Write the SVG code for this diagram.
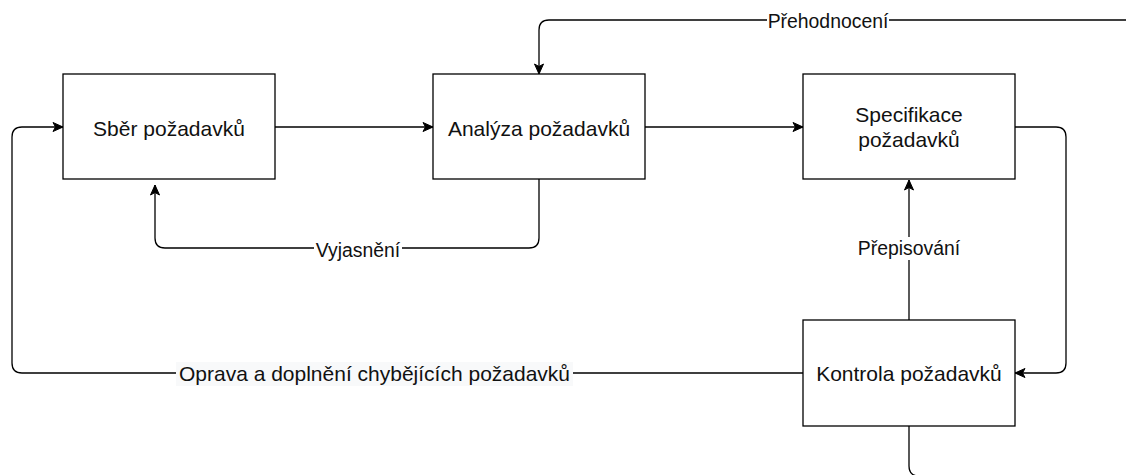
<svg xmlns="http://www.w3.org/2000/svg" width="1126" height="475" viewBox="0 0 1126 475">
  <style>
    .box { fill: #ffffff; stroke: #000000; stroke-width: 1.3; }
    .txt { font-family: "Liberation Sans", Arial, sans-serif; font-size: 21px; fill: #111111; text-anchor: middle; }
    .lbl { font-family: "Liberation Sans", Arial, sans-serif; font-size: 19.4px; fill: #111111; text-anchor: middle; }
    .lbl-wide { font-family: "Liberation Sans", Arial, sans-serif; font-size: 21px; fill: #111111; text-anchor: middle; }
    .edge { fill: none; stroke: #000000; stroke-width: 1.3; }
    .arrow { marker-end: url(#head); }
  </style>
  <defs>
    <marker id="head" markerUnits="userSpaceOnUse" markerWidth="12" markerHeight="12" viewBox="0 0 12 12" refX="11" refY="6" orient="auto">
      <path d="M1,1.5 L11,6 L1,10.5 L3.5,6 Z" fill="#000000" stroke="#000000" stroke-width="1"/>
    </marker>
  </defs>

  <!-- connectors -->
  <g id="connectors">
    <path class="edge arrow" d="M275,127 H433"/>
    <path class="edge arrow" d="M645,127 H803"/>
    <path class="edge arrow" d="M539,179 V238 Q539,248 529,248 H165 Q155,248 155,238 V185"/>
    <path class="edge arrow" d="M1126,20 H549 Q539,20 539,30 V74"/>
    <path class="edge arrow" d="M1015,127 H1056 Q1066,127 1066,137 V363 Q1066,373 1056,373 H1015"/>
    <path class="edge arrow" d="M909,320 V180"/>
    <path class="edge arrow" d="M803,373 H22 Q12,373 12,363 V137 Q12,127 22,127 H63"/>
    <path class="edge" d="M909,426 V466 Q909,476 919,476 H1126"/>

    <!-- edge labels -->
    <rect x="314" y="238" width="88" height="22" fill="#ffffff"/>
    <text class="lbl" x="358" y="257">Vyjasnění</text>
    <rect x="767" y="10" width="122" height="22" fill="#ffffff"/>
    <text class="lbl" x="828" y="28">Přehodnocení</text>
    <rect x="857" y="237" width="104" height="23" fill="#ffffff"/>
    <text class="lbl" x="909" y="255">Přepisování</text>
    <rect x="176" y="362" width="397" height="24" fill="#f8f9fa"/>
    <text class="lbl-wide" x="374.5" y="381">Oprava a doplnění chybějících požadavků</text>
  </g>

  <!-- nodes -->
  <g id="sber">
    <rect class="box" x="63" y="74" width="212" height="105"/>
    <text class="txt" x="169" y="136">Sběr požadavků</text>
  </g>
  <g id="analyza">
    <rect class="box" x="433" y="74" width="212" height="105"/>
    <text class="txt" x="539" y="136">Analýza požadavků</text>
  </g>
  <g id="specifikace">
    <rect class="box" x="803" y="74" width="212" height="105"/>
    <text class="txt" x="909" y="122">Specifikace</text>
    <text class="txt" x="909" y="147">požadavků</text>
  </g>
  <g id="kontrola">
    <rect class="box" x="803" y="320" width="212" height="106"/>
    <text class="txt" x="909" y="381">Kontrola požadavků</text>
  </g>
</svg>
